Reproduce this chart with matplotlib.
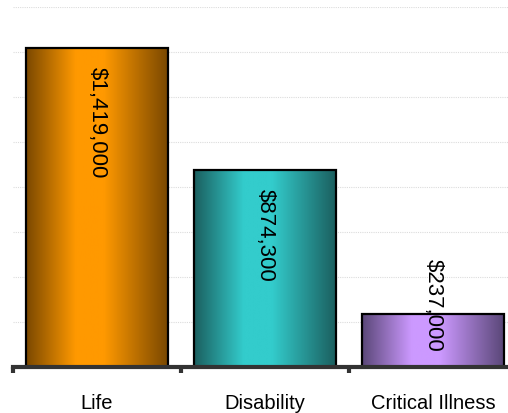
import matplotlib
matplotlib.use("Agg")
import matplotlib.pyplot as plt
import numpy as np
from matplotlib.colors import LinearSegmentedColormap

# chart data
categories = ["Life", "Disability", "Critical Illness"]
values = [1419000, 874300, 237000]
labels = ["$1,419,000", "$874,300", "$237,000"]

# dark edge / bright centre for each bar
bar_colors = [("#7a4800", "#ff9900"), ("#1b5f5f", "#33cccc"), ("#5a4778", "#cc99ff")]

plt.rcParams['font.family'] = ['Liberation Sans', 'DejaVu Sans']

fig = plt.figure(figsize=(5.08, 4.14), dpi=100)
ax = fig.add_axes([13/508, 46/414, 504/508, 360/414])

x = np.arange(len(categories))
width = 0.84
bars = ax.bar(x, values, width=width, facecolor="none", edgecolor="black", linewidth=1.6, zorder=3)

# gradient fill clipped to each bar
grad = np.linspace(0, 1, 256).reshape(1, -1)
for b, (dark, bright) in zip(bars, bar_colors):
    cmap = LinearSegmentedColormap.from_list("g", [(0, dark), (0.35, bright), (0.55, bright), (1, dark)])
    x0, y0 = b.get_x(), b.get_y()
    im = ax.imshow(grad, cmap=cmap, aspect="auto", extent=[x0, x0 + b.get_width(), y0, y0 + b.get_height()], zorder=2)
    im.set_clip_path(b)

# value labels, reading top to bottom
for xi, v, t in zip(x, values, labels):
    if v > 500000:
        ax.text(xi, v - 80000, t, rotation=-90, ha="center", va="top", fontsize=16, zorder=4)
    else:
        ax.text(xi, 71000, t, rotation=-90, ha="center", va="bottom", fontsize=16, zorder=4)

ax.set_xlim(-0.5, 2.5)
ax.set_ylim(0, 1600000)
ax.set_yticks(np.arange(200000, 1600001, 200000))
ax.yaxis.grid(True, color="#dcdcdc", linewidth=0.8, linestyle=(0, (1, 1)))
ax.set_axisbelow(True)
ax.tick_params(axis="y", left=False, labelleft=False)

ax.set_xticks(x)
ax.set_xticklabels(categories, fontsize=14.5)
ax.tick_params(axis="x", which="major", length=0, pad=19)
ax.set_xticks([-0.5, 0.5, 1.5, 2.5], minor=True)
ax.tick_params(axis="x", which="minor", length=4, width=3, color="#333333", direction="out")

for s in ["top", "right", "left"]:
    ax.spines[s].set_visible(False)
ax.spines["bottom"].set_color("#333333")
ax.spines["bottom"].set_linewidth(3)
ax.spines["bottom"].set_zorder(5)

fig.savefig("out.png", dpi=100)
